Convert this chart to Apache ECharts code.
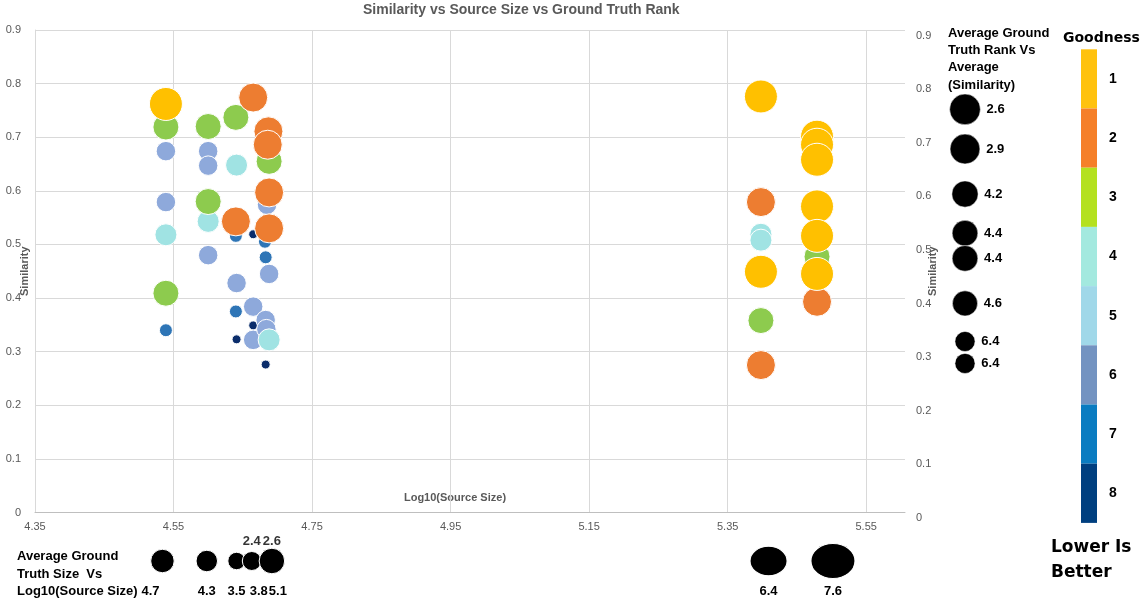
<!DOCTYPE html>
<html>
<head>
<meta charset="utf-8">
<script src="https://cdn.jsdelivr.net/npm/echarts@6/dist/echarts.min.js"></script>
<style>html,body{margin:0;padding:0;background:#fff}#c{width:1145px;height:604px}</style>
</head>
<body>
<div id="c"></div>
<script>
// ---------------- DATA ----------------
const logSourceSize = [
  4.539,4.539,4.539,4.539,4.539,4.539,4.539,
  4.600,4.600,4.600,4.600,4.600,4.600,
  4.640,4.641,4.640,4.640,4.641,4.640,4.641,
  4.665,4.665,4.665,4.665,4.665,
  4.687,4.686,4.688,4.688,4.685,4.688,4.682,4.683,4.688,4.683,4.684,4.688,4.683,
  5.398,5.398,5.398,5.398,5.398,5.398,5.398,
  5.479,5.479,5.479,5.479,5.479,5.479,5.479,5.479
];
const similarity = [
  0.762,0.719,0.674,0.579,0.518,0.409,0.340,
  0.720,0.674,0.647,0.580,0.543,0.480,
  0.737,0.648,0.543,0.516,0.428,0.375,0.323,
  0.774,0.519,0.384,0.349,0.322,
  0.711,0.686,0.655,0.597,0.574,0.530,0.505,0.476,0.445,0.359,0.342,0.322,0.276,
  0.776,0.579,0.519,0.508,0.449,0.358,0.275,
  0.701,0.686,0.658,0.571,0.477,0.516,0.445,0.393
];
const groundTruthRank = [
  1,3,6,6,4,3,7,
  3,6,6,3,4,6,
  3,4,2,7,6,7,8,
  2,8,6,8,6,
  2,2,3,2,6,2,7,7,6,6,6,4,8,
  1,2,4,4,1,3,2,
  1,1,1,1,3,1,1,2
];
const goodnessLevels = [1,2,3,4,5,6,7,8];

// legend: average ground truth rank vs average similarity
const avgRank = [2.6,2.9,4.2,4.4,4.4,4.6,6.4,6.4];
const avgRankSimilarity = [0.752,0.678,0.594,0.521,0.474,0.390,0.319,0.278];

// legend: average ground truth size vs log10(source size)
const avgSizeLog = [4.534,4.598,4.641,4.663,4.692,5.409,5.502];
const avgSizeValue = [4.7,4.3,3.5,3.8,5.1,6.4,7.6];
const avgSizeUpper = [null,null,null,2.4,2.6,null,null];

const xTickMin = 4.35, xTickStep = 0.2;
const yMin = 0, yMax = 0.9, yStep = 0.1;

// ---------------- STYLE ----------------
const bubbleColor = {1:'#FFC000',2:'#ED7D31',3:'#8DCB4E',4:'#A0E3E3',5:'#9DD3E8',6:'#8EA9DB',7:'#2E75B6',8:'#0B2D6B'};
const bubbleSize  = {1:33,2:29,3:26,4:22,5:21,6:19.5,7:13,8:9};
const barColor = ['#FFC20E','#F57F29','#B4E11F','#A3E9DF','#A0D8E9','#7393C1','#0A7CC1','#003F7F'];
const gray = '#595959';
const FONT = 'Liberation Sans';

const chart = echarts.init(document.getElementById('c'));

const mainSeries = [8,7,6,5,4,3,2,1].map(r => ({
  type: 'scatter', name: 'Rank ' + r, xAxisIndex: 0, yAxisIndex: 0,
  data: logSourceSize.map((x, i) => [x, similarity[i], groundTruthRank[i]]).filter(d => d[2] === r),
  symbolSize: bubbleSize[r],
  itemStyle: {color: bubbleColor[r], borderColor: '#ffffff', borderWidth: 1, opacity: 1},
  emphasis: {disabled: true}
}));

const labelFont = {color: '#000', fontWeight: 'bold', fontSize: 13, fontFamily: FONT};

const rightLegend = {
  type: 'scatter', xAxisIndex: 2, yAxisIndex: 3,
  data: avgRankSimilarity.map((s, i) => ['avg', s, avgRank[i]]),
  symbolSize: v => 38 - 2.8 * v[2],
  itemStyle: {color: '#000', borderColor: '#fff', borderWidth: 0.5, opacity: 1},
  label: Object.assign({show: true, position: 'right', distance: 6, formatter: p => p.value[2].toFixed(1)}, labelFont),
  emphasis: {disabled: true}
};

const bottomSize = v => v[0] > 5 ? [5.8 * v[2], 4.6 * v[2]] : 5 * v[2];
const bottomLegend = {
  type: 'scatter', xAxisIndex: 1, yAxisIndex: 2,
  data: avgSizeLog.map((x, i) => ({
    value: [x, 'size', avgSizeValue[i]],
    label: {offset: [i === 0 ? -12 : (i === 3 ? 7 : (i === 4 ? 6 : 0)), 30]}
  })),
  symbolSize: bottomSize,
  itemStyle: {color: '#000', borderColor: '#fff', borderWidth: 1, opacity: 1},
  label: Object.assign({show: true, position: 'inside', formatter: p => p.value[2].toFixed(1)}, labelFont),
  emphasis: {disabled: true}
};
const bottomLegendUpper = {
  type: 'scatter', xAxisIndex: 1, yAxisIndex: 2,
  data: avgSizeLog.map((x, i) => [x, 'size', avgSizeUpper[i]]).filter(d => d[2] !== null),
  symbolSize: 1,
  itemStyle: {color: 'rgba(0,0,0,0)'},
  label: Object.assign({show: true, position: 'inside', offset: [0, -20], formatter: p => p.value[2].toFixed(1)}, labelFont),
  emphasis: {disabled: true},
  z: 5
};
const dummy = {type: 'scatter', xAxisIndex: 0, yAxisIndex: 0, data: []};

const series = [...mainSeries, rightLegend, bottomLegend, bottomLegendUpper, dummy];

const axisText = {color: gray, fontSize: 11, fontFamily: FONT};

chart.setOption({
  animation: false,
  backgroundColor: '#ffffff',
  title: {
    text: 'Similarity vs Source Size vs Ground Truth Rank',
    left: 363, top: 3, padding: 0,
    textStyle: {color: gray, fontSize: 14, fontWeight: 'bold', fontFamily: FONT}
  },
  grid: [
    {left: 35, right: 240, top: 30, bottom: 91.5, containLabel: false, outerBoundsMode: 'none'},
    {left: 35, right: 240, top: 541, height: 40, containLabel: false, outerBoundsMode: 'none'},
    {left: 940, width: 50, top: 30, bottom: 91.5, containLabel: false, outerBoundsMode: 'none'}
  ],
  xAxis: [
    {gridIndex: 0, type: 'value', min: xTickMin, max: 5.606, interval: xTickStep,
     axisLine: {show: true, lineStyle: {color: '#BFBFBF'}}, axisTick: {show: false},
     splitLine: {show: true, showMaxLine: false, lineStyle: {color: '#D9D9D9'}},
     axisLabel: Object.assign({margin: 9, showMaxLabel: false, formatter: v => v.toFixed(2)}, axisText)},
    {gridIndex: 1, type: 'value', min: xTickMin, max: 5.606, show: false},
    {gridIndex: 2, type: 'category', data: ['avg'], show: false}
  ],
  yAxis: [
    {gridIndex: 0, type: 'value', min: yMin, max: yMax, interval: yStep,
     name: 'Similarity', nameLocation: 'middle', nameGap: 5, nameMoveOverlap: false,
     nameTextStyle: {color: gray, fontSize: 11, fontWeight: 'bold', fontFamily: FONT},
     axisLine: {show: true, lineStyle: {color: '#D9D9D9'}}, axisTick: {show: false},
     splitLine: {show: true, lineStyle: {color: '#D9D9D9'}},
     axisLabel: Object.assign({margin: 14, formatter: v => String(+v.toFixed(1))}, axisText)},
    {gridIndex: 0, type: 'value', position: 'right', min: yMin, max: yMax, interval: yStep,
     name: 'Similarity', nameLocation: 'middle', nameGap: 22, nameRotate: 90, nameMoveOverlap: false,
     nameTextStyle: {color: gray, fontSize: 11, fontWeight: 'bold', fontFamily: FONT},
     axisLine: {show: false}, axisTick: {show: false}, splitLine: {show: false},
     axisLabel: Object.assign({margin: 11, verticalAlign: 'top', formatter: v => String(+v.toFixed(1))}, axisText)},
    {gridIndex: 1, type: 'category', data: ['size'], show: false},
    {gridIndex: 2, type: 'value', min: yMin, max: yMax, show: false}
  ],
  visualMap: {
    type: 'piecewise', seriesIndex: series.length - 1, dimension: 2,
    pieces: goodnessLevels.map((r, i) => ({value: r, label: String(r), color: barColor[i]})),
    orient: 'vertical', inverse: true, left: 1081, top: 49.3, align: 'left',
    itemWidth: 16, itemHeight: 59.2, itemGap: 0, itemSymbol: 'rect', textGap: 12, padding: 0,
    selectedMode: false, hoverLink: false,
    textStyle: {color: '#000', fontSize: 14, fontWeight: 'bold', fontFamily: FONT}
  },
  graphic: [
    {type: 'text', left: 948, top: 24.5, style: {text: 'Average Ground\nTruth Rank Vs\nAverage\n(Similarity)', fill: '#000', font: 'bold 13px "Liberation Sans"', lineHeight: 17.3}},
    {type: 'text', left: 1063, top: 31, style: {text: 'Goodness', fill: '#000', font: 'bold 14px "DejaVu Sans"'}},
    {type: 'text', left: 1051, top: 535, style: {text: 'Lower Is\nBetter', fill: '#000', font: 'bold 17px "DejaVu Sans"', lineHeight: 25}},
    {type: 'text', left: 17, top: 548, style: {text: 'Average Ground\nTruth Size  Vs\nLog10(Source Size)', fill: '#000', font: 'bold 13px "Liberation Sans"', lineHeight: 17.5}},
    {type: 'text', x: 455, y: 498, style: {text: 'Log10(Source Size)', fill: gray, font: 'bold 11px "Liberation Sans"', align: 'center', verticalAlign: 'middle'}}
  ],
  series: series
});
</script>
</body>
</html>
